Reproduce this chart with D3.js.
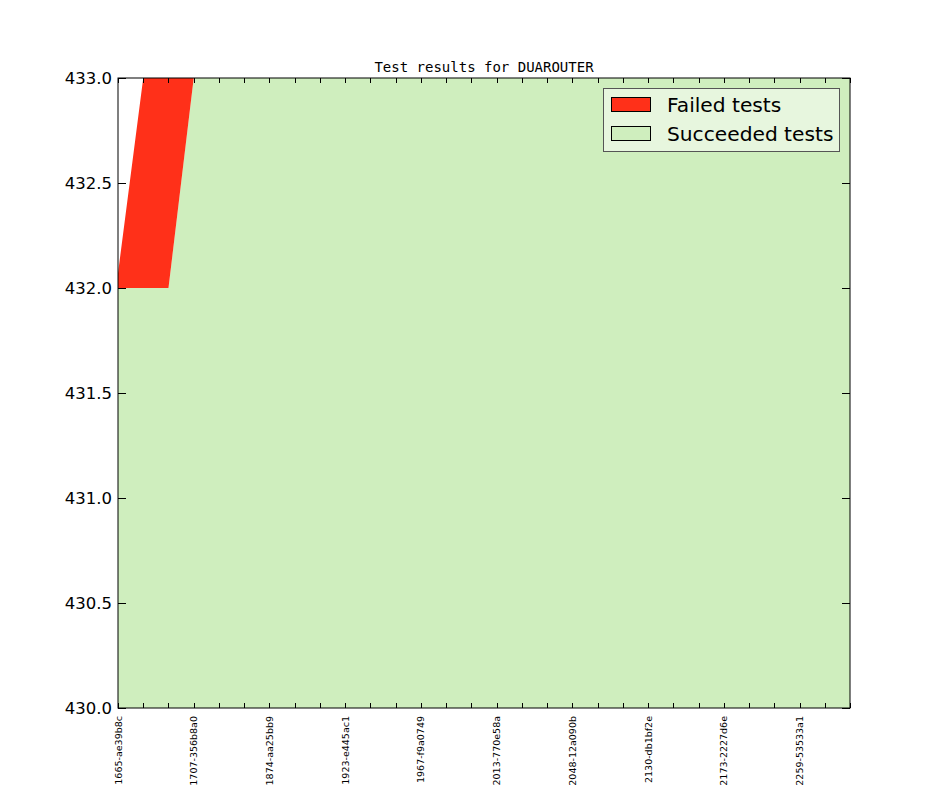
<!DOCTYPE html>
<html><head><meta charset="utf-8">
<script src="https://cdn.jsdelivr.net/npm/d3@7/dist/d3.min.js"></script>
<style>body{margin:0;background:#fff}svg{display:block}</style>
</head><body>
<svg id="c" width="944" height="787"></svg>
<script>
const succeeded = [432,432,432,433,433,433,433,433,433,433,433,433,433,433,433,433,433,433,433,433,433,433,433,433,433,433,433,433,433,433];
const failed    = [0.07,1,1,0,0,0,0,0,0,0,0,0,0,0,0,0,0,0,0,0,0,0,0,0,0,0,0,0,0,0];
const tickLabels = ["1665-ae39b8c","1707-356b8a0","1874-aa25bb9","1923-e445ac1","1967-f9a0749","2013-770e58a","2048-12a090b","2130-db1bf2e","2173-2227d6e","2259-53533a1"];
const yTicks = [430.0,430.5,431.0,431.5,432.0,432.5,433.0];
const title = "Test results for DUAROUTER";

const svg = d3.select("#c");
const L=118,R=850,T=78,B=708;
const n = succeeded.length;
const x = d3.scaleLinear().domain([0,n-1]).range([L,R]);
const y = d3.scaleLinear().domain([430,433]).range([B,T]);

const defs = svg.append("defs");
defs.append("clipPath").attr("id","clip").append("rect").attr("x",L).attr("y",T).attr("width",R-L).attr("height",B-T);

const data = succeeded.map((s,i)=>({i,s,f:failed[i]}));
const g = svg.append("g").attr("clip-path","url(#clip)");
const greenC="#cfeebe", redC="#ff3019";
g.append("path").datum(data).attr("fill",greenC)
  .attr("d",d3.area().x(d=>x(d.i)).y0(y(420)).y1(d=>y(d.s)));
g.append("path").datum(data).attr("fill",redC)
  .attr("d",d3.area().x(d=>x(d.i)).y0(d=>y(d.s)).y1(d=>y(d.s+d.f)));

// frame
svg.append("rect").attr("x",L).attr("y",T).attr("width",R-L).attr("height",B-T)
  .attr("fill","none").attr("stroke","#000").attr("stroke-width",1);

// y ticks
const ya = svg.append("g");
yTicks.forEach(v=>{
  const yy=Math.round(y(v))+0.5;
  ya.append("line").attr("x1",L).attr("x2",L+8).attr("y1",yy).attr("y2",yy).attr("stroke","#000");
  ya.append("line").attr("x1",R-8).attr("x2",R).attr("y1",yy).attr("y2",yy).attr("stroke","#000");
  ya.append("text").attr("x",L-6).attr("y",y(v)).attr("dy","0.36em").attr("text-anchor","end")
    .attr("font-family","DejaVu Sans").attr("font-size",16.5).text(v.toFixed(1));
});

// x ticks
const xa = svg.append("g");
d3.range(n).forEach(i=>{
  const xx=Math.round(x(i))+0.5;
  xa.append("line").attr("x1",xx).attr("x2",xx).attr("y1",B).attr("y2",B-5).attr("stroke","#000");
  xa.append("line").attr("x1",xx).attr("x2",xx).attr("y1",T).attr("y2",T+5).attr("stroke","#000");
});
tickLabels.forEach((lab,k)=>{
  const xx=x(k*3);
  xa.append("text").attr("transform",`translate(${xx+3.5},716) rotate(-90)`)
    .attr("text-anchor","end").attr("font-family","DejaVu Sans").attr("font-size",9.5).text(lab);
});

// title
svg.append("text").attr("x",(L+R)/2).attr("y",72).attr("text-anchor","middle")
  .attr("font-family","DejaVu Sans Mono").attr("font-size",14).text(title);

// legend
const lg = svg.append("g");
lg.append("rect").attr("x",603.5).attr("y",88.5).attr("width",236).attr("height",63)
  .attr("fill","#e7f6de").attr("stroke","#555").attr("stroke-width",1);
const items=[["Failed tests",redC],["Succeeded tests",greenC]];
items.forEach((it,k)=>{
  const yy=97.5+k*29;
  lg.append("rect").attr("x",611.5).attr("y",yy).attr("width",39).attr("height",14)
    .attr("fill",it[1]).attr("stroke","#000").attr("stroke-width",1);
  lg.append("text").attr("x",667).attr("y",yy+14).attr("font-family","DejaVu Sans")
    .attr("font-size",20.2).text(it[0]);
});
</script>
</body></html>
